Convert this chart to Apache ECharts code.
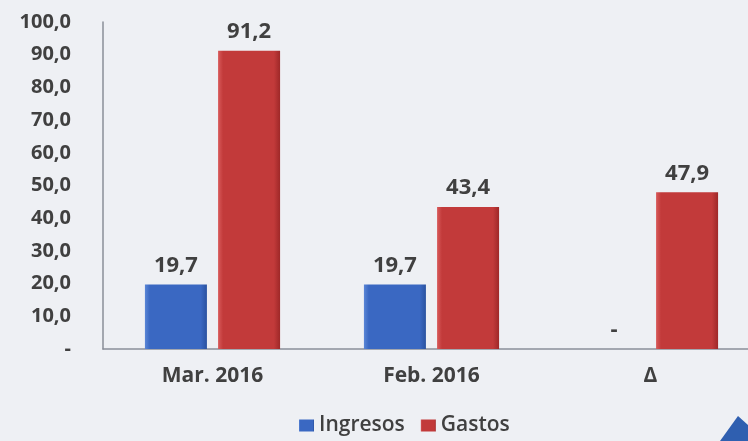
<!DOCTYPE html>
<html><head><meta charset="utf-8">
<script src="https://cdn.jsdelivr.net/npm/echarts@6/dist/echarts.min.js"></script>
<style>html,body{margin:0;padding:0;background:#eef0f4;overflow:hidden;}#c{width:760px;height:441px;}</style>
</head><body><div id="c"></div>
<script>
var categories = ['Mar. 2016', 'Feb. 2016', 'Δ'];
var ingresos = [19.7, 19.7, 0];
var gastos = [91.2, 43.4, 47.9];
var seriesNames = ['Ingresos', 'Gastos'];

function fmt(v){ return v === 0 ? '-' : v.toFixed(1).replace('.', ','); }
var FONT = '"Open Sans", Lato, sans-serif';
var chart = echarts.init(document.getElementById('c'));
function grad(c1, c2, c3){
  return new echarts.graphic.LinearGradient(0,0,1,0,[
    {offset:0,color:c1},{offset:0.08,color:c2},{offset:0.9,color:c2},{offset:1,color:c3}]);
}
chart.setOption({
  backgroundColor:'#eef0f4',
  animation:false,
  grid:{left:103, right:0, top:22, bottom:92, containLabel:false},
  legend:{bottom:0, left:294, itemWidth:15, itemHeight:12, itemGap:16,
    icon:'rect',
    textStyle:{fontFamily:FONT, fontSize:21, color:'#404040', fontWeight:600},
    data:seriesNames},
  xAxis:{type:'category', data:categories,
    axisLine:{lineStyle:{color:'#8a8f99', width:1.5}},
    axisTick:{show:false},
    axisLabel:{fontFamily:FONT, fontSize:21, fontWeight:'bold', color:'#404040', margin:17}},
  yAxis:{type:'value', min:0, max:100, interval:10,
    axisLine:{show:true, lineStyle:{color:'#8a8f99', width:1.5}},
    axisTick:{show:false},
    splitLine:{show:false},
    axisLabel:{fontFamily:FONT, fontSize:20, fontWeight:'bold', color:'#404040', margin:32,
      formatter:function(v){return fmt(v);}}},
  series:[
    {name:seriesNames[0], type:'bar', data:ingresos, barWidth:62, barGap:'18%',
      itemStyle:{color:grad('#5a86d6','#3a68c2','#2a52a0')},
      label:{show:true, position:'top', distance:8, fontFamily:FONT, fontSize:22, fontWeight:'bold', color:'#404040',
        formatter:function(p){return fmt(p.value);}}},
    {name:seriesNames[1], type:'bar', data:gastos, barWidth:62,
      itemStyle:{color:grad('#d85a5a','#c23a3a','#9e2828')},
      label:{show:true, position:'top', distance:8, fontFamily:FONT, fontSize:22, fontWeight:'bold', color:'#404040',
        formatter:function(p){return fmt(p.value);}}}
  ],
  graphic:[{type:'polygon', shape:{points:[[720,441],[748,441],[748,425],[738,416]]}, style:{fill:'#2f5fb0'}}]
});
</script></body></html>
